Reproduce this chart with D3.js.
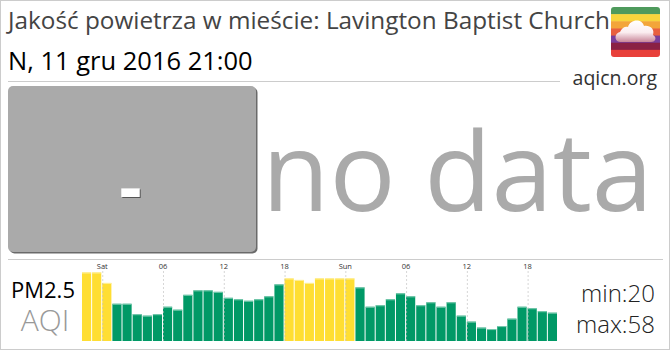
<!DOCTYPE html>
<html>
<head>
<meta charset="utf-8">
<script src="https://cdn.jsdelivr.net/npm/d3@7"></script>
<style>
  body { margin: 0; background: #fff; }
  svg text { font-family: "Open Sans", "Noto Sans", sans-serif; }
</style>
</head>
<body>
<div id="svg-container"></div>
<script>
// hourly PM2.5 AQI readings, Fri 22:00 -> Sun 20:00
let aqi = [58, 58, 51, 37, 37, 30, 29, 30, 35, 33, 43, 46, 46, 45, 41, 40, 39, 40, 42, 50,
  54, 53, 51, 54, 54, 54, 54, 48, 35, 36, 40, 44, 42, 36, 38, 35, 38, 29, 25, 21,
  20, 22, 27, 35, 34, 32, 31];
let tickIndex = [2, 8, 14, 20, 26, 32, 38, 44];
let tickLabels = ['Sat', '06', '12', '18', 'Sun', '06', '12', '18'];
let logoColors = ['#4e9a5c', '#f7d53c', '#f3a53a', '#e8603f', '#7a3f9a', '#8a2144', '#e8403a'];

let title = 'Jakość powietrza w mieście: Lavington Baptist Church';
let updated = 'N, 11 gru 2016 21:00';
let current = '-';

let w = 670;
let h = 350;

let svg = d3.select('#svg-container').
append('svg').
attr('width', w).
attr('height', h);

// outer frame
svg.append('rect').
attr('x', 0.5).attr('y', 0.5).
attr('width', w - 1).attr('height', h - 1).
attr('fill', 'none').
attr('stroke', '#ccc');

svg.append('text').
attr('x', 8).attr('y', 29).
attr('font-size', 24.3).
attr('fill', '#444').
text(title);

svg.append('text').
attr('x', 8).attr('y', 70).
attr('font-size', 25.5).
attr('fill', '#000').
text(updated);

svg.append('line').
attr('x1', 8).attr('x2', 560).
attr('y1', 81.5).attr('y2', 81.5).
attr('stroke', '#ccc');

svg.append('text').
attr('x', 657).attr('y', 85).
attr('text-anchor', 'end').
attr('font-size', 19.5).
attr('fill', '#333').
text('aqicn.org');

// logo, drawn over the end of the title
let logo = svg.append('g').attr('transform', 'translate(611,7)');
let defs = svg.append('defs');
defs.append('clipPath').attr('id', 'logo-clip').
append('rect').attr('width', 49).attr('height', 50).attr('rx', 3);
let grad = defs.append('linearGradient').attr('id', 'cloud-grad').
attr('x1', 0).attr('x2', 0).attr('y1', 0).attr('y2', 1);
grad.append('stop').attr('offset', '0%').attr('stop-color', '#ffffff');
grad.append('stop').attr('offset', '55%').attr('stop-color', '#fbeef0');
grad.append('stop').attr('offset', '100%').attr('stop-color', '#c9879a');

let band = d3.scaleBand().domain(d3.range(logoColors.length)).range([0, 50]);
logo.append('rect').attr('x', 0).attr('y', 0).attr('width', 52).attr('height', 50).attr('fill', '#fff');
logo.append('g').attr('clip-path', 'url(#logo-clip)').
selectAll('rect').
data(logoColors).
enter().
append('rect').
attr('x', 0).
attr('y', (d, i) => band(i)).
attr('width', 49).
attr('height', band.bandwidth() + 0.5).
attr('fill', d => d);

logo.append('path').
attr('d', 'M9,35 C3,35 3,26 9,25 C11,20 15,19 17,20 C19,12 31,11 33,19 C39,18 44,22 42,28 C46,30 45,35 40,35 Z').
attr('fill', 'url(#cloud-grad)');

// current value box
svg.append('rect').
attr('x', 9.5).attr('y', 87.5).
attr('width', 248).attr('height', 166).
attr('rx', 5).
attr('fill', '#6a6a6a');
svg.append('rect').
attr('x', 8).attr('y', 86).
attr('width', 248).attr('height', 166).
attr('rx', 5).
attr('fill', '#aaa');

svg.append('text').
attr('x', 131.5).attr('y', 213).
attr('text-anchor', 'middle').
attr('font-family', 'DejaVu Sans').
attr('font-weight', 'bold').
attr('font-size', 70).
attr('fill', '#555').
text(current);
svg.append('text').
attr('x', 130.5).attr('y', 212).
attr('text-anchor', 'middle').
attr('font-family', 'DejaVu Sans').
attr('font-weight', 'bold').
attr('font-size', 70).
attr('fill', '#fff').
text(current);

svg.append('text').
attr('x', 262).attr('y', 211).
attr('font-size', 110).
attr('fill', '#aaa').
text('no data');

svg.append('line').
attr('x1', 8).attr('x2', 663).
attr('y1', 259.5).attr('y2', 259.5).
attr('stroke', '#ccc');

svg.append('text').
attr('x', 43).attr('y', 298).
attr('text-anchor', 'middle').
attr('font-size', 22).
attr('fill', '#000').
text('PM2.5');

svg.append('text').
attr('x', 45).attr('y', 331).
attr('text-anchor', 'middle').
attr('font-size', 30).
attr('font-weight', 300).
attr('fill', '#999').
text('AQI');

// hourly bars
let x = d3.scaleBand().
domain(d3.range(aqi.length)).
range([82, 558]);

let y = d3.scaleLinear().
domain([12, 58]).
range([341, 272.5]);

let color = d3.scaleThreshold().
domain([51, 101]).
range(['#009966', '#ffde33', '#ff9933']);
let topColor = d3.scaleThreshold().
domain([51, 101]).
range(['#7fccb2', '#ffef99', '#ffcc99']);

let bars = svg.append('g');
bars.selectAll('rect').
data(aqi).
enter().
append('rect').
attr('x', (d, i) => x(i)).
attr('y', d => y(d)).
attr('width', x.bandwidth() - 1).
attr('height', d => y(12) - y(d)).
attr('fill', d => color(d));

bars.selectAll('line').
data(aqi).
enter().
append('line').
attr('x1', (d, i) => x(i)).
attr('x2', (d, i) => x(i) + x.bandwidth() - 1).
attr('y1', d => y(d) + 0.5).
attr('y2', d => y(d) + 0.5).
attr('stroke', d => topColor(d));

let ticks = svg.append('g');
ticks.selectAll('line').
data(tickIndex).
enter().
append('line').
attr('x1', d => x(d) + 0.5).
attr('x2', d => x(d) + 0.5).
attr('y1', 271).
attr('y2', 341).
attr('stroke', '#bbb').
attr('stroke-opacity', 0.6).
attr('stroke-dasharray', '2,2');

ticks.selectAll('text').
data(tickIndex).
enter().
append('text').
attr('x', d => x(d)).
attr('y', 269).
attr('text-anchor', 'middle').
attr('font-size', 7.5).
attr('fill', '#333').
text((d, i) => tickLabels[i]);

svg.append('text').
attr('x', 655).attr('y', 302).
attr('text-anchor', 'end').
attr('font-size', 24).
attr('font-weight', 300).
attr('fill', '#222').
text('min:' + d3.min(aqi));

svg.append('text').
attr('x', 655).attr('y', 333).
attr('text-anchor', 'end').
attr('font-size', 24).
attr('font-weight', 300).
attr('fill', '#222').
text('max:' + d3.max(aqi));
</script>
</body>
</html>
